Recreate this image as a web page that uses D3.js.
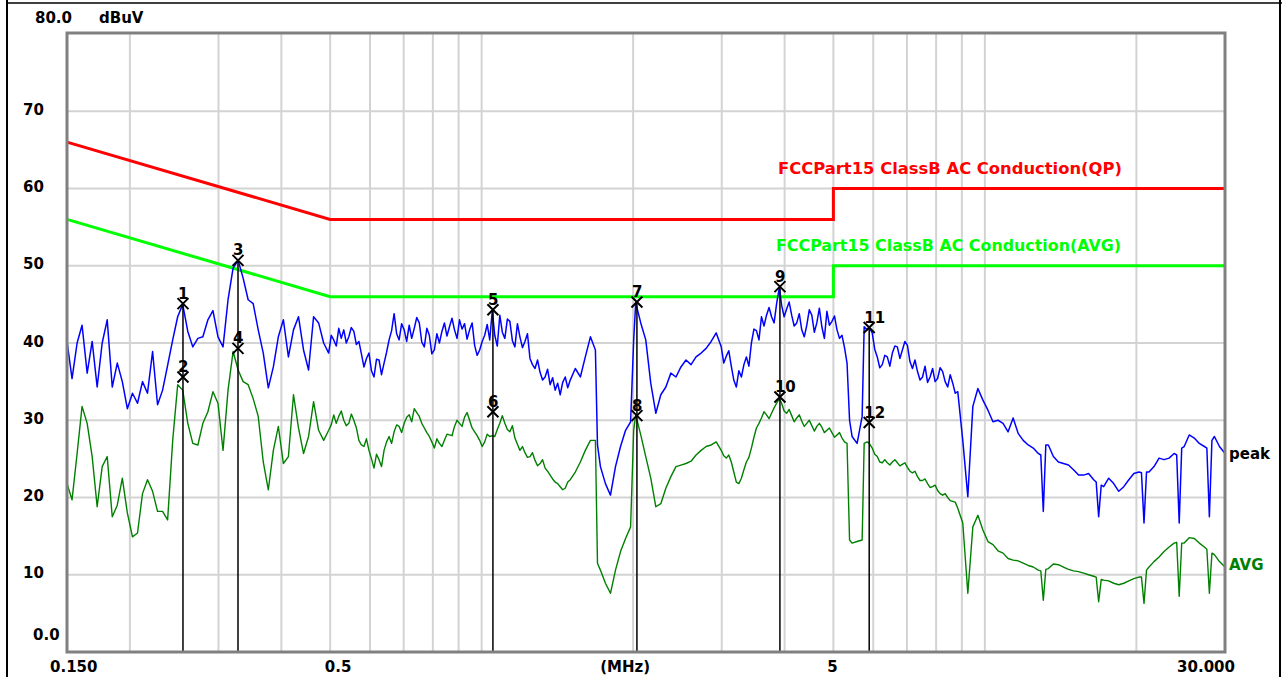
<!DOCTYPE html>
<html><head><meta charset="utf-8">
<script src="https://cdn.jsdelivr.net/npm/d3@7"></script>
<style>html,body{margin:0;padding:0;background:#fff;overflow:hidden}</style>
</head><body>
<svg id="c" width="1282" height="677"></svg>
<script>
// ---------------- DATA ----------------
const freq = [
0.1500,0.1535,0.1571,0.1607,0.1645,0.1683,0.1722,0.1762,0.1803,0.1845,
0.1888,0.1932,0.1977,0.2024,0.2071,0.2119,0.2168,0.2219,0.2270,0.2323,
0.2377,0.2433,0.2489,0.2547,0.2607,0.2667,0.2730,0.2793,0.2858,0.2925,
0.2993,0.3063,0.3134,0.3207,0.3282,0.3358,0.3436,0.3516,0.3598,0.3682,
0.3768,0.3856,0.3945,0.4037,0.4131,0.4228,0.4326,0.4427,0.4530,0.4635,
0.4743,0.4854,0.4967,0.5083,0.5201,0.5322,0.5446,0.5573,0.5703,0.5836,
0.5972,0.6111,0.6253,0.6399,0.6548,0.6700,0.6856,0.7016,0.7179,0.7347,
0.7518,0.7693,0.7872,0.8055,0.8243,0.8435,0.8632,0.8833,0.9038,0.9249,
0.9464,0.9685,0.9910,1.0141,1.0377,1.050,1.0619,1.0867,1.1120,1.1379,1.1644,
1.1915,1.2192,1.2476,1.2767,1.3064,1.3369,1.3680,1.3999,1.4325,1.4659,
1.500,1.535,1.571,1.607,1.645,1.683,1.699,1.722,1.762,1.803,1.845,
1.888,1.932,1.977,2.005,2.024,2.071,2.119,2.168,2.219,2.270,2.323,
2.377,2.433,2.489,2.547,2.607,2.667,2.730,2.793,2.858,2.925,
2.993,3.063,3.134,3.207,3.282,3.358,3.436,3.516,3.598,3.682,
3.768,3.856,3.905,3.945,4.037,4.131,4.228,4.326,4.427,4.530,4.635,
4.743,4.854,4.967,5.083,5.201,5.322,5.384,5.446,5.573,5.703,5.756,5.836,5.890,
5.972,6.111,6.253,6.399,6.548,6.700,6.856,7.016,7.179,7.347,
7.518,7.693,7.872,8.055,8.243,8.435,8.632,8.833,9.038,9.249,
9.464,9.685,9.910,10.141,10.377,10.619,10.867,11.120,11.379,11.644,
11.915,12.192,12.476,12.767,12.915,13.064,13.215,13.369,13.680,13.999,14.325,14.659,
15.00,15.35,15.71,16.07,16.45,16.64,16.83,17.03,17.22,17.62,18.03,18.45,
18.88,19.32,19.77,20.24,20.47,20.71,20.95,21.19,21.68,22.19,22.70,23.23,
23.77,24.05,24.33,24.61,24.89,25.47,26.07,26.67,27.30,27.61,27.93,28.26,28.58,29.25,30.00
];
const peak = [
40.2,35.4,40.0,42.3,36.1,40.2,34.3,40.0,43.0,34.3,
37.4,35.0,31.5,33.5,32.2,35.0,33.5,38.9,32.0,33.9,
37.1,40.4,43.4,45.0,41.5,39.5,40.6,40.8,43.0,44.2,
40.8,39.5,45.6,49.7,50.7,48.4,45.6,45.1,41.7,38.7,
34.2,36.9,40.8,43.0,38.2,41.7,43.4,39.1,36.5,43.4,
42.6,40.0,38.7,40.4,41.9,41.7,40.8,41.5,40.2,36.9,
38.7,35.6,37.8,37.4,40.4,43.8,40.4,41.7,42.3,41.9,
42.6,39.5,41.0,39.1,40.0,42.6,42.1,41.7,43.0,42.5,
41.7,39.7,39.1,41.0,40.4,44.2,41.0,43.6,40.6,42.8,39.5,
40.8,40.2,38.0,36.7,36.2,35.6,34.6,33.9,33.3,35.6,
35.2,36.7,35.6,38.2,40.8,39.1,26.8,24.0,21.8,20.3,24.0,
26.6,28.7,29.8,40.4,45.2,42.6,40.4,34.8,30.9,33.3,34.3,
36.1,35.6,36.9,37.8,37.2,38.2,38.7,39.3,40.2,41.3,
39.5,38.3,37.0,34.3,35.6,38.2,40.0,41.6,43.4,43.6,
43.4,45.1,47.2,44.9,44.4,43.6,42.6,41.7,42.3,43.6,42.6,
42.1,44.1,42.8,41.7,41.0,37.4,30.0,27.9,27.0,30.5,42.1,41.7,42.0,
41.3,38.2,37.2,38.2,38.7,39.5,39.1,39.7,36.7,36.3,
35.6,34.9,36.7,35.4,36.3,34.3,34.8,33.7,27.4,20.1,
31.8,34.1,32.6,31.3,29.8,30.0,29.6,28.5,30.3,28.3,
27.4,26.8,26.4,25.7,25.5,18.2,26.8,26.8,25.3,24.6,24.4,24.2,
23.6,22.9,22.9,23.1,22.3,22.0,17.5,21.6,21.4,22.5,21.8,20.8,
21.4,22.3,23.1,23.3,23.2,16.7,23.3,23.3,24.0,25.1,24.9,25.1,
25.7,25.5,16.7,26.4,26.6,28.1,27.7,27.0,26.6,26.4,17.5,27.4,27.9,26.6,25.7
];
const avg = [
21.8,19.7,25.7,31.8,29.6,25.3,18.8,24.0,25.3,17.5,
19.0,22.5,18.0,14.9,15.4,20.5,22.3,20.8,18.2,18.2,
17.1,27.4,34.6,33.9,29.6,27.0,26.8,29.6,31.1,33.7,
32.2,26.1,33.9,38.9,36.5,35.0,34.6,32.8,30.5,24.6,
21.0,26.1,29.2,24.4,25.3,33.3,29.0,25.7,27.9,32.4,
28.7,27.4,28.7,30.7,30.5,30.0,29.6,30.0,27.4,26.6,
26.1,23.8,24.9,26.1,27.9,28.5,29.2,29.6,30.7,31.5,
30.5,29.0,27.9,26.4,27.0,27.4,28.1,29.2,29.6,30.4,
30.0,28.5,27.4,27.2,27.9,28.0,27.9,29.6,29.6,28.5,27.7,
26.1,25.8,25.3,24.8,24.4,23.8,22.9,22.0,21.4,21.2,
22.3,23.3,24.6,26.1,27.4,27.4,11.5,10.6,8.9,7.6,10.6,
13.0,14.7,16.2,28.7,30.7,28.1,25.3,22.5,18.8,19.2,21.2,
22.7,24.0,24.2,24.4,24.7,25.5,26.1,26.6,26.8,27.2,
26.1,25.1,24.6,22.0,22.5,24.6,26.4,29.0,30.3,30.7,
30.9,32.2,32.8,32.2,30.9,30.6,30.3,29.9,29.6,29.3,29.2,
29.1,28.7,28.4,28.1,27.7,27.0,14.5,14.1,14.3,14.5,27.0,27.2,27.0,
26.4,25.3,24.5,24.5,24.6,24.5,24.3,23.9,23.2,22.7,
22.2,21.8,21.4,20.9,20.3,20.0,19.5,18.6,16.7,7.6,
16.2,17.7,15.8,14.3,13.9,13.1,12.8,12.1,11.9,11.8,
11.5,11.2,11.0,10.6,10.5,6.7,10.7,10.8,11.4,11.3,11.0,10.7,
10.5,10.4,10.2,10.0,9.8,9.7,6.5,9.4,9.3,9.2,8.9,8.7,
8.9,9.2,9.5,9.7,9.7,6.3,10.6,11.0,11.7,12.3,13.0,13.6,
14.1,14.2,7.2,14.1,14.1,14.8,14.7,14.1,13.6,13.3,7.6,12.8,12.6,11.7,11.0
];
// extra readings in the densely noisy parts of the sweep
const extraFreq = [
0.5025,0.5142,0.5261,0.5384,0.5509,0.5638,0.5769,0.5904,0.6041,0.6182,
0.6325,0.6473,0.6624,0.6778,0.6935,0.7097,0.7262,0.7432,0.7605,0.7782,
0.7963,0.8148,0.8338,0.8533,0.8732,0.8935,0.9143,0.9356,0.9574,0.9797,
1.0025,1.0258,1.0742,1.0993,1.1249,1.1511,1.1779,1.2053,1.2333,1.2620,
1.2915,1.3215,1.3524,1.3838,1.4161,1.4491,1.4829,
3.028,3.098,3.170,3.244,3.320,3.397,3.476,3.557,3.640,3.725,3.812,
3.991,4.084,4.179,4.277,4.376,4.478,4.582,4.689,4.798,4.910,5.025,5.142,5.261,
6.041,6.182,6.325,6.473,6.624,6.778,6.935,7.097,7.262,7.432,7.605,7.782,7.963,8.148,8.338,8.533,8.732
];
const extraPeak = [
41.0,39.6,40.6,40.0,42.0,39.8,38.6,38.0,36.4,37.9,
35.9,38.8,41.6,41.2,42.5,40.2,40.6,43.3,40.1,41.9,
38.6,41.2,41.5,40.9,43.2,40.6,41.8,40.5,42.6,38.4,
40.2,42.4,39.6,41.4,43.1,40.3,42.5,39.4,41.2,37.2,
37.8,35.2,36.6,35.5,34.8,34.9,34.2,
37.4,39.0,35.2,36.4,37.2,37.0,41.8,40.4,42.2,44.6,42.6,
43.4,45.3,42.2,43.8,40.8,44.3,41.4,44.5,40.6,42.3,43.5,40.6,39.4,
39.2,36.8,38.4,37.0,39.6,38.0,40.2,37.6,37.8,35.2,37.0,35.6,35.0,36.8,35.0,35.9,33.5
];
const extraAvg = [
29.4,29.6,31.2,29.3,30.8,29.0,26.8,27.6,25.0,25.6,
24.0,27.2,27.0,29.4,28.4,30.4,29.8,31.0,29.6,28.4,
27.2,27.6,26.6,28.2,28.0,30.0,29.2,31.0,29.0,28.0,
26.6,28.2,28.8,30.6,28.8,29.3,26.9,26.6,25.2,25.8,
24.1,24.9,23.4,22.4,21.8,21.0,22.0,
25.4,25.5,23.3,21.8,23.6,25.2,27.8,29.6,31.1,30.2,31.6,
31.2,31.4,29.8,30.7,29.2,30.0,28.6,29.6,28.4,29.0,27.8,28.4,27.2,
25.6,24.6,24.9,24.2,24.9,24.1,24.5,23.4,23.4,22.2,22.4,21.3,21.6,20.5,20.5,19.6,19.4
];
const qpLimitFreq = [0.15, 0.5, 5, 5, 30];
const qpLimit     = [66, 56, 56, 60, 60];
const avgLimitFreq = [0.15, 0.5, 5, 5, 30];
const avgLimit     = [56, 46, 46, 50, 50];
const qpLimitName  = "FCCPart15 ClassB AC Conduction(QP)";
const avgLimitName = "FCCPart15 ClassB AC Conduction(AVG)";
const markerFreq  = [0.255,0.255,0.328,0.328,1.053,1.053,2.035,2.035,3.915,3.915,5.89,5.89];
const markerLevel = [45.1,35.6,50.7,39.3,44.3,31.1,45.3,30.6,47.3,33.0,42.0,29.7];
const markerLabel = ["1","2","3","4","5","6","7","8","9","10","11","12"];
const yGrid = [10,20,30,40,50,60,70];
const yTickValues = [0,10,20,30,40,50,60,70,80];
const yTickLabels = ["0.0","10","20","30","40","50","60","70","80.0"];
const xGrid = [0.2,0.3,0.4,0.5,0.6,0.7,0.8,0.9,1,2,3,4,5,6,7,8,9,10,20];
const xTickValues = [0.15,0.5,5,30];
const xTickLabels = ["0.150","0.5","5","30.000"];
const yUnit = "dBuV", xUnit = "(MHz)";

// ---------------- DRAW ----------------
const svg = d3.select('#c');
const x = d3.scaleLog().domain([0.15,30]).range([67,1225]);
const y = d3.scaleLinear().domain([0,80]).range([652,34]);
const FONT = "'DejaVu Sans', Verdana, sans-serif";

// outer black frame
svg.append('line').attr('x1',7).attr('x2',7).attr('y1',0).attr('y2',677).attr('stroke','#000').attr('stroke-width',2);
svg.append('line').attr('x1',1280).attr('x2',1280).attr('y1',0).attr('y2',677).attr('stroke','#000').attr('stroke-width',2);
svg.append('line').attr('x1',7).attr('x2',1282).attr('y1',3).attr('y2',3).attr('stroke','#000').attr('stroke-width',1.5);

// grid
svg.append('g').selectAll('line').data(yGrid).join('line')
  .attr('x1',x(0.15)).attr('x2',x(30)).attr('y1',d=>y(d)).attr('y2',d=>y(d))
  .attr('stroke','#d3d3d3').attr('stroke-width',2);
svg.append('g').selectAll('line').data(xGrid).join('line')
  .attr('x1',d=>x(d)).attr('x2',d=>x(d)).attr('y1',y(80)).attr('y2',y(0))
  .attr('stroke','#d3d3d3').attr('stroke-width',2);

const line = d3.line().x(d=>x(d[0])).y(d=>y(d[1]));
// limit lines
svg.append('path').datum(d3.zip(qpLimitFreq,qpLimit)).attr('d',line)
  .attr('fill','none').attr('stroke','#ff0000').attr('stroke-width',3);
svg.append('path').datum(d3.zip(avgLimitFreq,avgLimit)).attr('d',line)
  .attr('fill','none').attr('stroke','#00ff00').attr('stroke-width',3);

// traces (main sweep readings merged with the extra readings, ordered by frequency)
const n = Math.min(freq.length, peak.length, avg.length);
const m = Math.min(extraFreq.length, extraPeak.length, extraAvg.length);
const pts = d3.range(n).map(i=>({f:freq[i],p:peak[i],a:avg[i]}))
  .concat(d3.range(m).map(i=>({f:extraFreq[i],p:extraPeak[i],a:extraAvg[i]})))
  .sort((a,b)=>a.f-b.f);
svg.append('path').datum(pts.map(d=>[d.f,d.a])).attr('d',line)
  .attr('fill','none').attr('stroke','#008000').attr('stroke-width',1.4).attr('stroke-linejoin','round');
svg.append('path').datum(pts.map(d=>[d.f,d.p])).attr('d',line)
  .attr('fill','none').attr('stroke','#0000ff').attr('stroke-width',1.5).attr('stroke-linejoin','round');

// marker vertical lines
const tops = d3.rollups(d3.range(markerFreq.length), v=>d3.max(v,i=>markerLevel[i]), i=>markerFreq[i]);
svg.append('g').selectAll('line').data(tops).join('line')
  .attr('x1',d=>x(d[0])).attr('x2',d=>x(d[0])).attr('y1',d=>y(d[1])).attr('y2',y(0))
  .attr('stroke','#000').attr('stroke-width',1.5);

// markers
const mg = svg.append('g').selectAll('g').data(d3.range(markerFreq.length)).join('g')
  .attr('transform',i=>`translate(${x(markerFreq[i])},${y(markerLevel[i])})`);
mg.append('path').attr('d','M-5.5,-5.5L5.5,5.5M-5.5,5.5L5.5,-5.5').attr('stroke','#000').attr('stroke-width',2).attr('fill','none');
mg.append('text').attr('x',-5).attr('y',-5).text(i=>markerLabel[i])
  .attr('font-family',FONT).attr('font-weight','bold').attr('font-size',15).attr('fill','#000');

// plot frame
svg.append('rect').attr('x',x(0.15)).attr('y',33).attr('width',x(30)-x(0.15)).attr('height',y(0)-33)
  .attr('fill','none').attr('stroke','#808080').attr('stroke-width',3);

// y tick labels
const yl = svg.append('g').attr('font-family',FONT).attr('font-weight','bold').attr('font-size',15).attr('fill','#000');
yTickValues.forEach((v,i)=>{
  let tx=23, ty=y(v)+3.5;
  if (i===0){ tx=33; ty=y(v)-12; }
  if (i===yTickValues.length-1){ tx=35; ty=y(v)-11; }
  yl.append('text').attr('x',tx).attr('y',ty).text(yTickLabels[i]);
});
yl.append('text').attr('x',99).attr('y',y(80)-11).text(yUnit);

// x tick labels
const xl = svg.append('g').attr('font-family',FONT).attr('font-weight','bold').attr('font-size',15).attr('fill','#000');
xTickValues.forEach((v,i)=>{
  let t = xl.append('text').attr('y',672).text(xTickLabels[i]);
  if (i===0) t.attr('x',x(v)-17).attr('text-anchor','start');
  else if (i===xTickValues.length-1) t.attr('x',x(v)+10).attr('text-anchor','end');
  else if (v===0.5) t.attr('x',x(v)+8).attr('text-anchor','middle');
  else t.attr('x',x(v)-1).attr('text-anchor','middle');
});
xl.append('text').attr('x',x(2)-8).attr('y',672).attr('text-anchor','middle').text(xUnit);

// limit names
svg.append('text').attr('x',778).attr('y',y(60)-15).text(qpLimitName)
  .attr('font-family',FONT).attr('font-weight','bold').attr('font-size',15).attr('fill','#ff0000')
  .attr('textLength',344).attr('lengthAdjust','spacingAndGlyphs');
svg.append('text').attr('x',776).attr('y',y(50)-15).text(avgLimitName)
  .attr('font-family',FONT).attr('font-weight','bold').attr('font-size',15).attr('fill','#00ff00')
  .attr('textLength',345).attr('lengthAdjust','spacingAndGlyphs');

// trace names
svg.append('text').attr('x',1229).attr('y',459).text('peak')
  .attr('font-family',FONT).attr('font-weight','bold').attr('font-size',15).attr('fill','#000');
svg.append('text').attr('x',1229).attr('y',570).text('AVG')
  .attr('font-family',FONT).attr('font-weight','bold').attr('font-size',15).attr('fill','#008000');
</script>
</body></html>
